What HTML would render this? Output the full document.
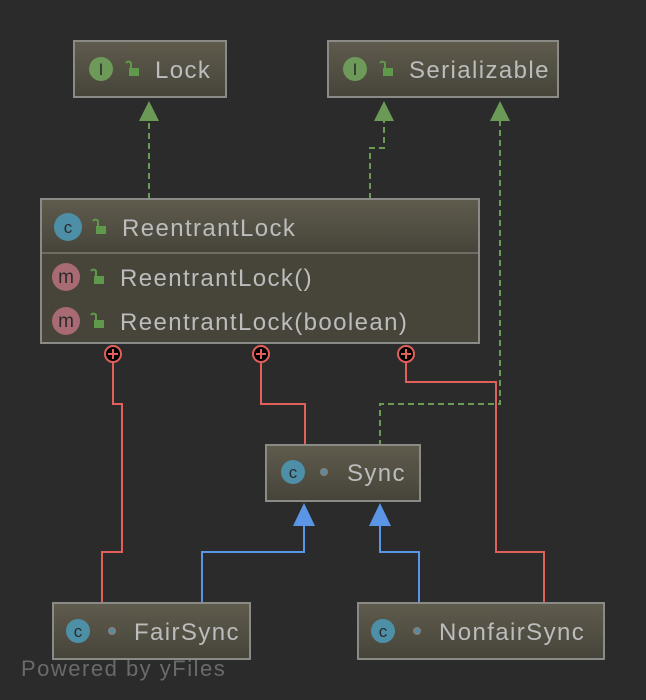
<!DOCTYPE html>
<html><head><meta charset="utf-8"><style>
body{margin:0;background:#2b2b2b;}
svg{display:block;font-family:"Liberation Sans",sans-serif;}
</style></head><body>
<svg width="646" height="700" viewBox="0 0 646 700">
<defs>
<linearGradient id="g" x1="0" y1="0" x2="0" y2="1"><stop offset="0" stop-color="#5f5b4d"/><stop offset="1" stop-color="#46443a"/></linearGradient>
</defs>
<rect width="646" height="700" fill="#2b2b2b"/>
<g fill="none" stroke="#6a9a55" stroke-width="2" stroke-dasharray="6,4">
<path d="M149 199V120"/>
<path d="M370 199V148H384V120"/>
<path d="M500 120V404H380V445"/>
</g>
<g fill="#6a9a55">
<polygon points="149,101 139,121 159,121"/>
<polygon points="384,101 374,121 394,121"/>
<polygon points="500,101 490,121 510,121"/>
</g>
<g fill="none" stroke="#e2605a" stroke-width="2">
<path d="M113 362V404H122V552H102V603"/>
<path d="M261 362V404H305V445"/>
<path d="M406 362V382H496V552H544V603"/>
</g>
<g fill="none" stroke="#5b95e6" stroke-width="2">
<path d="M304 525V552H202V603"/>
<path d="M380 525V552H419V603"/>
</g>
<g fill="#5b95e6">
<polygon points="304,503 293,526 315,526"/>
<polygon points="380,503 369,526 391,526"/>
</g>
<g stroke="#8a8a86" stroke-width="2" fill="url(#g)">
<rect x="74" y="41" width="152" height="56"/>
<rect x="328" y="41" width="230" height="56"/>
<rect x="41" y="199" width="438" height="144" fill="#47443a"/>
<rect x="266" y="445" width="154" height="56"/>
<rect x="53" y="603" width="197" height="56"/>
<rect x="358" y="603" width="246" height="56"/>
</g>
<rect x="42" y="200" width="436" height="53" fill="url(#g)"/>
<line x1="42" y1="253" x2="478" y2="253" stroke="#6e6c64" stroke-width="2"/>
<g font-size="17" text-anchor="middle">
<circle cx="101" cy="69" r="12" fill="#6d9a58"/><text x="101" y="75" fill="#2b2b2b">I</text>
<circle cx="355" cy="69" r="12" fill="#6d9a58"/><text x="355" y="75" fill="#2b2b2b">I</text>
<circle cx="68" cy="227" r="14" fill="#4e8fa8"/><text x="68" y="233" fill="#2b2b2b">c</text>
<circle cx="66" cy="277" r="14" fill="#a86a73"/><text x="66" y="283" fill="#2b2b2b" font-size="19">m</text>
<circle cx="66" cy="321" r="14" fill="#a86a73"/><text x="66" y="327" fill="#2b2b2b" font-size="19">m</text>
<circle cx="293" cy="472" r="12" fill="#4e8fa8"/><text x="293" y="478" fill="#2b2b2b">c</text>
<circle cx="78" cy="631" r="12" fill="#4e8fa8"/><text x="78" y="637" fill="#2b2b2b">c</text>
<circle cx="383" cy="631" r="12" fill="#4e8fa8"/><text x="383" y="637" fill="#2b2b2b">c</text>
</g>
<g fill="#808080"><circle cx="324" cy="472" r="4"/><circle cx="112" cy="631" r="4"/><circle cx="417" cy="631" r="4"/></g>
<g fill="#4e8fa8"><circle cx="324" cy="472" r="2"/><circle cx="112" cy="631" r="2"/><circle cx="417" cy="631" r="2"/></g>
<g fill="#5f9a4c" stroke="#5f9a4c">
<g><rect x="129" y="68" width="10" height="8" stroke="none"/><path d="M131 68V63a3 3 0 0 0-5 0" fill="none" stroke-width="2"/></g>
<g><rect x="383" y="68" width="10" height="8" stroke="none"/><path d="M385 68V63a3 3 0 0 0-5 0" fill="none" stroke-width="2"/></g>
<g><rect x="96" y="226" width="10" height="8" stroke="none"/><path d="M98 226V221a3 3 0 0 0-5 0" fill="none" stroke-width="2"/></g>
<g><rect x="94" y="276" width="10" height="8" stroke="none"/><path d="M96 276V271a3 3 0 0 0-5 0" fill="none" stroke-width="2"/></g>
<g><rect x="94" y="320" width="10" height="8" stroke="none"/><path d="M96 320V315a3 3 0 0 0-5 0" fill="none" stroke-width="2"/></g>
</g>
<g fill="#bcbcbc" font-size="24" letter-spacing="1.4">
<text x="155" y="78">Lock</text>
<text x="409" y="78">Serializable</text>
<text x="122" y="236">ReentrantLock</text>
<text x="120" y="286">ReentrantLock()</text>
<text x="120" y="330">ReentrantLock(boolean)</text>
<text x="347" y="481">Sync</text>
<text x="134" y="640">FairSync</text>
<text x="439" y="640">NonfairSync</text>
</g>
<g stroke="#e2605a" stroke-width="2" fill="#000">
<circle cx="113" cy="354" r="8"/><circle cx="261" cy="354" r="8"/><circle cx="406" cy="354" r="8"/>
<path d="M108 354H118M113 349V359M256 354H266M261 349V359M401 354H411M406 349V359"/>
</g>
<text x="21" y="676" fill="#6a6a6a" font-size="22" letter-spacing="1.5">Powered by yFiles</text>
</svg>
</body></html>
